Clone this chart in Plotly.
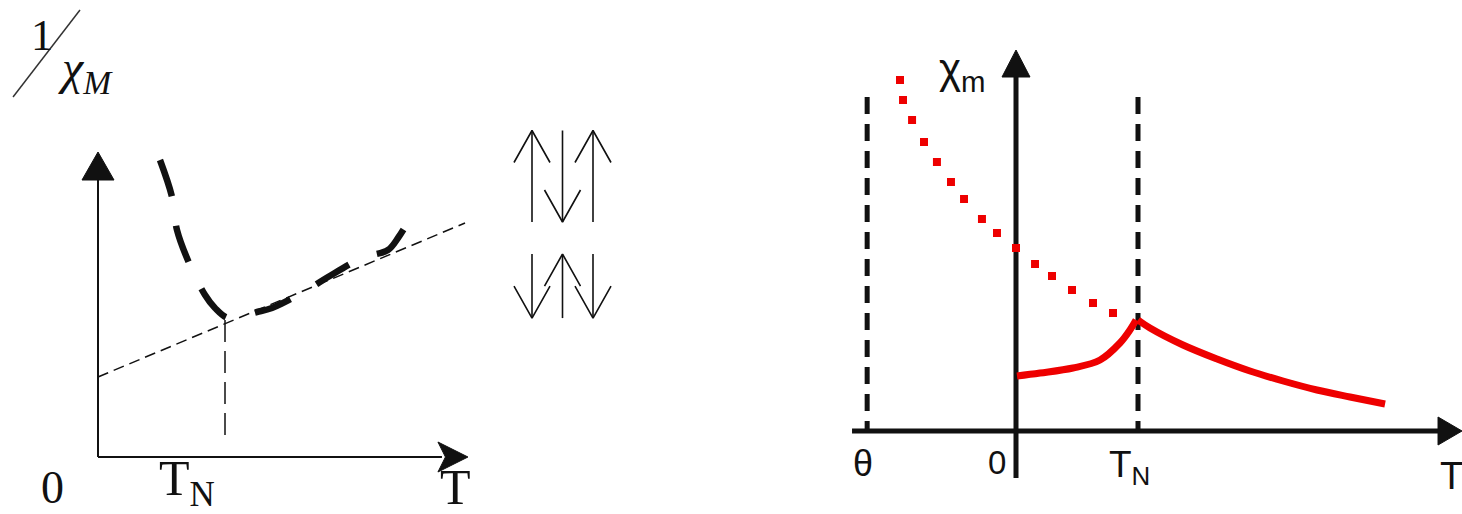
import plotly.graph_objects as go

W, H = 1462, 514

# ---------------- left panel: 1/chi_M versus T ----------------
T_N = 1.0
inv_T = [0.488, 0.583, 0.622, 0.724, 0.843, 0.921, 1.024, 1.157, 1.252, 1.370,
         1.646, 1.811, 2.079, 2.283, 2.362, 2.441]
inv_chi = [2.97, 2.60, 2.27, 1.92, 1.62, 1.49, 1.39, 1.42, 1.45, 1.49,
           1.67, 1.80, 1.99, 2.07, 2.19, 2.35]
# Curie-Weiss extrapolation (thin dashed straight line)
cw_line_T = [0.0, 2.89]
cw_line_inv = [0.80, 2.34]
inv_TN_top = 1.37
inv_TN_bottom = 0.19

# ---------------- spin arrangement pictogram ----------------
spins_top = [1, -1, 1]
spins_bottom = [-1, 1, -1]

# ---------------- right panel: chi_m versus T ----------------
theta = -1.22
cw_dots_T = [-0.951, -0.926, -0.852, -0.754, -0.648, -0.533, -0.426, -0.279,
             -0.156, 0.0, 0.156, 0.295, 0.459, 0.631, 0.795]
cw_dots_chi = [3.51, 3.31, 3.11, 2.89, 2.69, 2.49, 2.32, 2.12,
               1.98, 1.83, 1.67, 1.55, 1.41, 1.28, 1.18]
af_T = [0.008, 0.197, 0.467, 0.689, 0.852, 0.934, 0.984]
af_chi = [0.55, 0.58, 0.63, 0.71, 0.88, 1.01, 1.11]
para_T = [1.0, 1.098, 1.369, 1.648, 1.918, 2.189, 2.467, 2.738, 3.025]
para_chi = [1.11, 1.03, 0.86, 0.72, 0.60, 0.50, 0.41, 0.34, 0.27]
guide_top = 3.34

RED = "#ee0000"
INK = "#111111"


def place_x(zero_px, ppu, lo_px, hi_px):
    return dict(domain=[lo_px / W, hi_px / W],
                range=[(lo_px - zero_px) / ppu, (hi_px - zero_px) / ppu],
                visible=False, fixedrange=True)


def place_y(zero_px, ppu, top_px, bottom_px):
    return dict(domain=[1 - bottom_px / H, 1 - top_px / H],
                range=[(zero_px - bottom_px) / ppu, (zero_px - top_px) / ppu],
                visible=False, fixedrange=True)


# pixel scales of each panel (px per data unit)
LX, LY = 127.0, 100.0
SX, SY = 30.5, 30.5
RX, RY = 122.0, 100.0

fig = go.Figure()


def line(ax, xs, ys, color=INK, width=2, dash=None, shape="linear"):
    fig.add_trace(go.Scatter(
        x=xs, y=ys, mode="lines", xaxis=ax[0], yaxis=ax[1],
        line=dict(color=color, width=width, dash=dash, shape=shape),
        hoverinfo="skip", showlegend=False))


def arrowhead(ax, tip, direction, length_px, width_px, sx, sy, notch=0.0):
    tx, ty = tip
    if direction == "up":
        base = ty - length_px / sy
        xs = [tx, tx + width_px / 2 / sx, tx, tx - width_px / 2 / sx, tx]
        ys = [ty, base, base + notch * length_px / sy, base, ty]
    else:  # right
        base = tx - length_px / sx
        xs = [tx, base, base + notch * length_px / sx, base, tx]
        ys = [ty, ty + width_px / 2 / sy, ty, ty - width_px / 2 / sy, ty]
    fig.add_trace(go.Scatter(
        x=xs, y=ys, mode="lines", fill="toself", fillcolor=INK,
        xaxis=ax[0], yaxis=ax[1], line=dict(color=INK, width=1),
        hoverinfo="skip", showlegend=False))


# ---- left panel ----
L = ("x", "y")
l_ytip, l_xtip = 3.05, 2.913
line(L, [0, 0], [0, l_ytip - 26 / LY], width=2)
line(L, [0, l_xtip - 26 / LX], [0, 0], width=2)
arrowhead(L, (0, l_ytip), "up", 28, 32, LX, LY)
arrowhead(L, (l_xtip, 0), "right", 30, 30, LX, LY, notch=0.25)
line(L, cw_line_T, cw_line_inv, width=1.5, dash="11px,6px")
line(L, [T_N, T_N], [inv_TN_top, inv_TN_bottom], width=1.5, dash="22px,9px")
line(L, inv_T, inv_chi, width=6.5, dash="38px,30px", shape="spline")

# ---- spin pictogram ----
S = ("x3", "y3")
rows = [(spins_top, 0.0, 3.0), (spins_bottom, -3.15, -1.05)]
hx, hy = 18 / SX, 32 / SY
for spins, y0, y1 in rows:
    for col, s in enumerate(spins):
        line(S, [col, col], [y0, y1], width=1.6)
        tip = y1 if s > 0 else y0
        back = tip - hy if s > 0 else tip + hy
        line(S, [col - hx, col, col + hx], [back, tip, back], width=1.6)

# ---- right panel ----
R = ("x2", "y2")
r_ytip, r_xtip = 3.81, 3.656
line(R, [0, 0], [-0.47, r_ytip - 24 / RY], width=5)
line(R, [-1.344, r_xtip - 22 / RX], [0, 0], width=5)
arrowhead(R, (0, r_ytip), "up", 27, 28, RX, RY)
arrowhead(R, (r_xtip, 0), "right", 24, 28, RX, RY)
line(R, [theta, theta], [guide_top, 0], width=5, dash="17px,10px")
line(R, [T_N, T_N], [guide_top, 0], width=5, dash="17px,10px")
fig.add_trace(go.Scatter(
    x=cw_dots_T, y=cw_dots_chi, mode="markers", xaxis="x2", yaxis="y2",
    marker=dict(symbol="square", size=8, color=RED),
    hoverinfo="skip", showlegend=False))
line(R, af_T, af_chi, color=RED, width=7, shape="spline")
line(R, para_T, para_chi, color=RED, width=7, shape="spline")


def label(ax, x, y, text, size, family, xanchor="center", yanchor="middle"):
    fig.add_annotation(x=x, y=y, xref=ax[0], yref=ax[1], text=text,
                       showarrow=False, xanchor=xanchor, yanchor=yanchor,
                       font=dict(size=size, family=family, color=INK))


SERIF = "Liberation Serif, DejaVu Serif, serif"
SANS = "Liberation Sans, Arial, sans-serif"

label(L, -0.362, -0.30, "0", 46, SERIF)
label(L, 0.465, -0.25, "T<sub>N</sub>", 50, SERIF, xanchor="left")
label(L, 2.811, -0.30, "T", 50, SERIF)
label(L, -0.441, 4.22, "1", 44, SERIF)
label(L, -0.33, 3.86, "<i>χ</i><sub><i>M</i></sub>", 48, SERIF, xanchor="left")
fig.add_shape(type="line", xref="x", yref="y", x0=-0.669, y0=3.60,
              x1=-0.142, y1=4.47, line=dict(color="#333333", width=1.5))

label(R, -0.648, 3.60, "χ<sub>m</sub>", 42, SANS, xanchor="left")
label(R, -1.254, -0.32, "θ", 36, SANS)
label(R, -0.156, -0.31, "0", 33, SANS)
label(R, 0.746, -0.36, "T<sub>N</sub>", 37, SANS, xanchor="left")
label(R, 3.57, -0.45, "T", 38, SANS)

fig.update_layout(
    width=W, height=H, margin=dict(l=0, r=0, t=0, b=0),
    paper_bgcolor="white", plot_bgcolor="rgba(0,0,0,0)", showlegend=False,
    xaxis=dict(**place_x(98, LX, 0, 480), anchor="y"),
    yaxis=dict(**place_y(457, LY, 0, 514), anchor="x"),
    xaxis2=dict(**place_x(1016, RX, 800, 1462), anchor="y2"),
    yaxis2=dict(**place_y(431, RY, 0, 514), anchor="x2"),
    xaxis3=dict(**place_x(532, SX, 485, 640), anchor="y3"),
    yaxis3=dict(**place_y(222, SY, 100, 360), anchor="x3"),
)

fig.write_html("out.html")
